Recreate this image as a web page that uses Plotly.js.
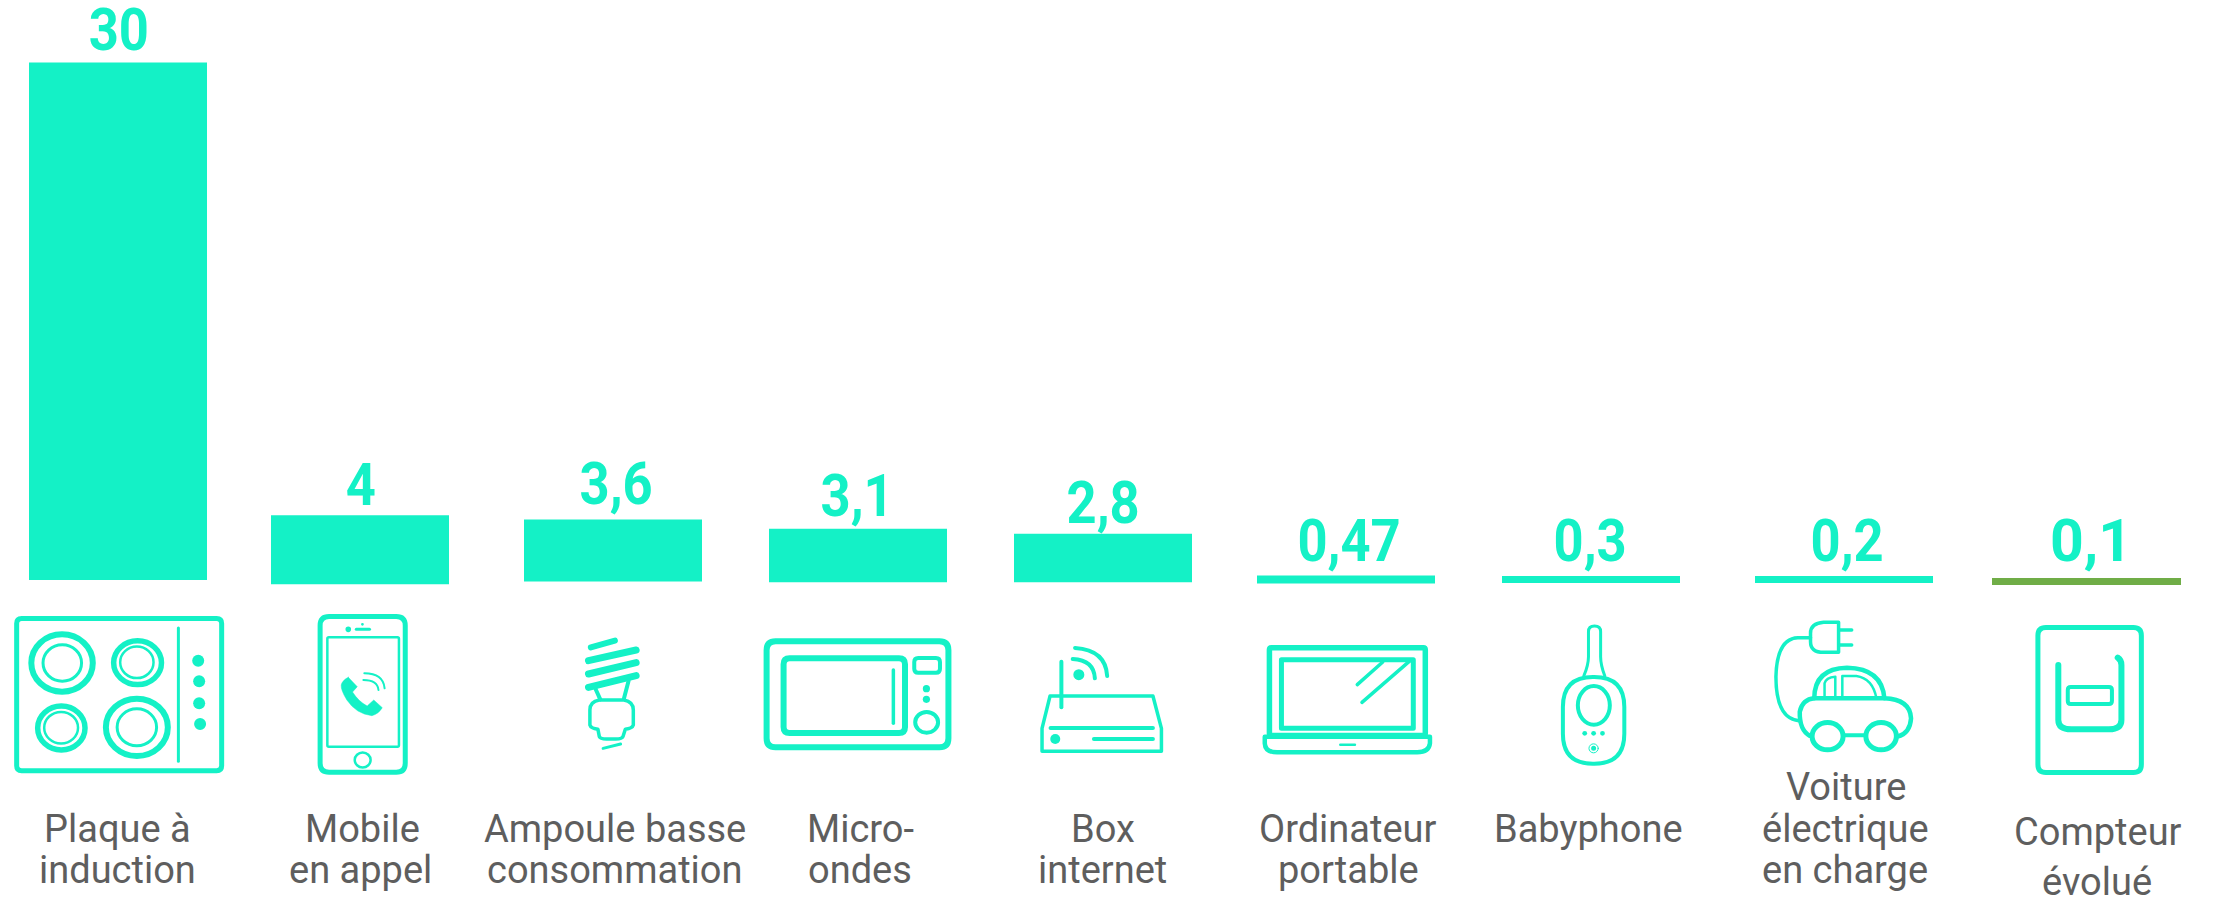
<!DOCTYPE html>
<html><head><meta charset="utf-8">
<script src="https://cdn.plot.ly/plotly-3.0.1.min.js"></script>
<style>
html,body{margin:0;padding:0;background:#fff}
.shapelayer path{stroke-linecap:round;stroke-linejoin:round}
.annotation:nth-child(-n+9) text{transform-box:fill-box;transform-origin:center;transform:scaleX(.89)}
</style></head><body><div id="chart" style="width:2213px;height:900px"></div>
<script>
// ---------- data ----------
const categories = ["Plaque à induction","Mobile en appel","Ampoule basse consommation","Micro-ondes","Box internet","Ordinateur portable","Babyphone","Voiture électrique en charge","Compteur évolué"];
const values = [30,4,3.6,3.1,2.8,0.47,0.3,0.2,0.1];
const valueLabels = ["30","4","3,6","3,1","2,8","0,47","0,3","0,2","0,1"];
const labelLines = [["Plaque à","induction"],["Mobile","en appel"],["Ampoule basse","consommation"],["Micro-","ondes"],["Box","internet"],["Ordinateur","portable"],["Babyphone"],["Voiture","électrique","en charge"],["Compteur","évolué"]];

// ---------- layout constants ----------
const W=2213,H=900,TEAL="#14F1C6",GREEN="#70AD47",GREY="#5E5E5E";
const barColors=[TEAL,TEAL,TEAL,TEAL,TEAL,TEAL,TEAL,TEAL,GREEN];
const pxPerUnit=17.25, zeroPx=580;
const barLeftPx=[29,271,524,769,1014,1257,1502,1755,1992];
const barRightPx=[207,449,702,947,1192,1435,1680,1933,2181];
const baseShiftPx=[0,4.25,1.55,2.25,2.15,3.55,2.1,1.2,2.35];
const outlinePx=[0,0,0,0,0,0,1.8,3.55,5.3];
const valueCx=[119,361,616,857,1103,1349,1590,1847,2091];
const valueCy=[30,484,483.5,495,502,540.5,540.5,540.5,540.5];
const labelCx=[[117.5,117.5],[362,360.5],[615,614],[860,860],[1103,1102],[1347.5,1348],[1588],[1846,1845,1845],[2098,2097]];
const labelBase=[[842,883],[842,883],[842,883],[842,883],[842,883],[842,883],[842],[800,842,883],[845,895]];
const VALUE_FONT=59,LABEL_FONT=38,VALUE_DY=0,LABEL_DY=-13;

const catPx=W/categories.length;
const widths=barLeftPx.map((l,i)=>(barRightPx[i]-l-outlinePx[i])/catPx);
const offsets=barLeftPx.map((l,i)=>(l+outlinePx[i]/2)/catPx-(i+0.5));
const bases=baseShiftPx.map(b=>-b/pxPerUnit);

const trace={type:"bar",x:categories,y:values,base:bases,width:widths,offset:offsets,
  marker:{color:barColors,line:{color:barColors,width:outlinePx}},hoverinfo:"x+y"};

// ---------- annotations ----------
const px=(x)=>x/W, py=(y)=>1-y/H;
const annotations=[];
valueLabels.forEach((t,i)=>annotations.push({text:t,xref:"paper",yref:"paper",x:px(valueCx[i]),y:py(valueCy[i]+VALUE_DY),
  xanchor:"center",yanchor:"middle",showarrow:false,font:{family:"Roboto,sans-serif",size:VALUE_FONT,color:TEAL,weight:700}}));
labelLines.forEach((lines,i)=>lines.forEach((t,j)=>annotations.push({text:t,xref:"paper",yref:"paper",x:px(labelCx[i][j]),y:py(labelBase[i][j]+LABEL_DY),
  xanchor:"center",yanchor:"middle",showarrow:false,font:{family:"Roboto,sans-serif",size:LABEL_FONT,color:GREY,weight:400}})));

// ---------- icons (drawn as decoration) ----------
const shapes=[];
function group(cropX,cropY,sx,sy,items){
  const X=v=>cropX+v/sx, Y=v=>cropY+v/sy;
  const fx=v=>px(v).toFixed(5), fy=v=>py(v).toFixed(5);
  const pth=(d,w,fill)=>shapes.push({type:"path",xref:"paper",yref:"paper",layer:"above",
    path:d,line:{color:TEAL,width:w},fillcolor:fill?TEAL:"rgba(0,0,0,0)"});
  items.forEach(it=>{
    const k=it[0];
    if(k==="p"){
      const d=it[1].replace(/(-?[\d.]+)\s+(-?[\d.]+)/g,(m,a,b)=>fx(X(+a))+","+fy(Y(+b)));
      pth(d,it[2],it[3]);
    } else if(k==="rr"){
      const w=it[6], x0=X(it[1])+w/2,y0=Y(it[2])+w/2,x1=X(it[3])-w/2,y1=Y(it[4])-w/2,r=it[5];
      const c=(a,b)=>fx(a)+","+fy(b);
      pth(`M${c(x0+r,y0)}L${c(x1-r,y0)}Q${c(x1,y0)} ${c(x1,y0+r)}L${c(x1,y1-r)}Q${c(x1,y1)} ${c(x1-r,y1)}L${c(x0+r,y1)}Q${c(x0,y1)} ${c(x0,y1-r)}L${c(x0,y0+r)}Q${c(x0,y0)} ${c(x0+r,y0)}Z`,w);
    } else if(k==="el"){
      const w=it[5];
      shapes.push({type:"circle",xref:"paper",yref:"paper",layer:"above",
        x0:px(X(it[1])+w/2),x1:px(X(it[3])-w/2),y0:py(Y(it[2])+w/2),y1:py(Y(it[4])-w/2),
        line:{color:TEAL,width:w},fillcolor:"rgba(0,0,0,0)"});
    } else if(k==="dot"){
      const cx=X(it[1]),cy=Y(it[2]),r=it[3];
      shapes.push({type:"circle",xref:"paper",yref:"paper",layer:"above",
        x0:px(cx-r),x1:px(cx+r),y0:py(cy-r),y1:py(cy+r),line:{width:0},fillcolor:TEAL});
    }
  });
}
// hob, phone, bulb
group(0,590,2.119,3,[
  ["rr",30,78,475,550,5,5],
  ["el",60,124,203,314,6],["el",88,160,176,278,3],
  ["el",235,144,348,292,5.5],["el",252,166,328,268,2.5],
  ["el",74,340,186,488,5.5],["el",91,362,168,464,2.5],
  ["el",218,317,362,507,6],["el",245,352,335,472,3],
  ["p","M 378 114 L 378 514",3],
  ["dot",420,212,6],["dot",422,274,6],["dot",422,340,6],["dot",424,402,6],
  ["rr",673,72,864,554,9,5],
  ["rr",691,138,848,474,1.5,2.5],
  ["dot",738,118,2.8],["p","M 755 118 L 783 118",3],["dot",768,103,1.4],
  ["el",749,484,788,536,2.5],
  ["p","M 738 262 L 757 290 L 747 306 Q 760 335 778 348 L 792 330 L 810 353 Q 802 372 788 377 Q 755 372 735 330 Q 722 300 723 285 Q 726 270 738 262 Z",0.5,true],
  ["p","M 772 250 Q 812 250 815 295",2],["p","M 770 270 Q 800 270 802 300",2],
  ["p","M 1252 172 L 1303 152",6],
  ["p","M 1247 212 L 1348 180",7],
  ["p","M 1247 252 L 1348 218",7],
  ["p","M 1247 292 L 1348 257",7],
  ["p","M 1262 297 L 1272 328",4],["p","M 1332 272 L 1322 326",4],
  ["p","M 1270 330 L 1322 330 Q 1342 335 1342 360 L 1342 405 Q 1340 415 1325 418 L 1320 440 Q 1318 447 1305 447 L 1285 447 Q 1272 447 1270 440 L 1267 418 Q 1252 415 1250 405 L 1250 360 Q 1250 335 1270 330 Z",3.5],
  ["p","M 1278 475 L 1315 462",3]
]);
// microwave, router, laptop
group(740,590,2.119,3,[
  ["rr",50,145,448,481,9,6],
  ["rr",86,196,356,438,6,6],
  ["p","M 325 240 L 325 400",3.5],
  ["rr",365,198,428,254,4,4],
  ["dot",395,296,3.6],["dot",395,328,3.6],
  ["el",367,360,424,434,4],
  ["p","M 640 484 L 640 415 L 657 318 L 875 318 L 893 415 L 893 484 Z",3.5],
  ["p","M 658 414 L 875 414",4],
  ["dot",668,447,5],["p","M 750 447 L 875 447",4],
  ["p","M 681 215 L 681 352",4],
  ["dot",718,254,5.5],
  ["p","M 705 207 Q 750 210 752 265",4],["p","M 710 174 Q 775 180 778 258",4],
  ["rr",1116,165,1458,445,2,5.5],
  ["rr",1142,202,1432,422,0,5],
  ["p","M 1308 284 L 1362 216",3.5],["p","M 1318 337 L 1420 212",3.5],
  ["p","M 1112 440 L 1462 440 L 1462 460 Q 1460 487 1435 487 L 1138 487 Q 1113 487 1112 460 Z",4.5],
  ["p","M 1272 464 L 1303 464",2.5]
]);
// baby monitor, car, meter
group(1480,590,2.139,3,[
  ["rr",173,255,313,527,30,4],
  ["el",205,282,282,410,4],
  ["dot",224,430,2.4],["dot",243,430,2.4],["dot",262,430,2.4],
  ["dot",243,475,2.5],["el",232,460,254,490,1],
  ["p","M 222 258 Q 232 225 232 200 L 232 125 Q 232 108 245 108 Q 258 108 258 125 L 258 200 Q 258 225 267 258",3],
  ["p","M 767 97 L 735 97 Q 707 100 707 130 L 707 155 Q 707 187 735 187 L 767 187 Z",3.5],
  ["p","M 707 143 L 680 143 Q 635 145 633 260 Q 633 385 682 392",3.5],
  ["p","M 770 120 L 795 120",3.5],["p","M 770 165 L 795 165",3.5],
  ["p","M 715 325 Q 715 235 785 233 Q 860 235 865 325 Q 920 328 922 385 Q 920 430 893 440",4.5],
  ["p","M 705 437 Q 683 420 684 365 Q 690 328 715 325 L 865 325",4.5],
  ["p","M 780 436 L 825 436",4],
  ["el",705,390,782,487,5],["el",820,390,896,487,5],
  ["p","M 737 325 L 737 280 Q 740 262 760 260 L 760 325 Z",2.5],
  ["p","M 775 325 L 775 258 L 805 258 Q 840 265 848 325 Z",2.5],
  ["rr",1188,105,1420,555,8,5],
  ["p","M 1237 225 L 1237 390 Q 1237 418 1265 418 L 1345 418 Q 1372 418 1372 390 L 1372 225 Q 1372 210 1364 203",6],
  ["rr",1253,285,1356,348,3,4]
]);

const layout={width:W,height:H,margin:{l:0,r:0,t:0,b:0,pad:0},paper_bgcolor:"#fff",plot_bgcolor:"#fff",showlegend:false,
  xaxis:{type:"category",range:[-0.5,categories.length-0.5],visible:false,fixedrange:true},
  yaxis:{range:[-(H-zeroPx)/pxPerUnit,zeroPx/pxPerUnit],visible:false,fixedrange:true},
  annotations,shapes};
Plotly.newPlot("chart",[trace],layout,{displayModeBar:false});
</script></body></html>
